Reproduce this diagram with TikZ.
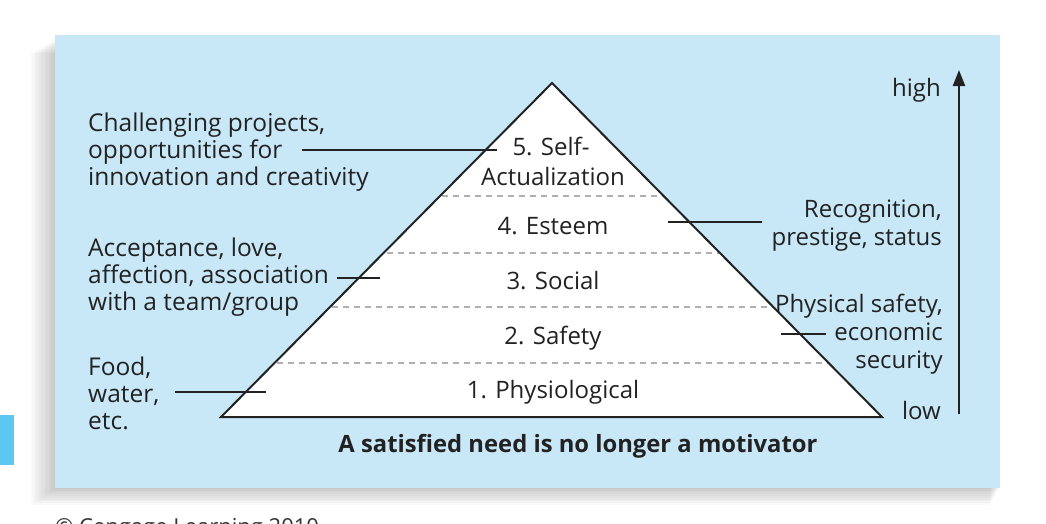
\documentclass[tikz,border=0pt]{standalone}
\usepackage{fontspec}
\setmainfont{Open Sans}
\usetikzlibrary{positioning,calc,arrows.meta}
\definecolor{panelblue}{HTML}{C8E8F8}
\definecolor{tabblue}{HTML}{5CC8F2}
\definecolor{dashgray}{HTML}{B0B0B0}
\definecolor{inkgray}{HTML}{222222}
\tikzset{
  lbl/.style={font=\fontsize{24.5}{27}\selectfont, text=inkgray, inner sep=0pt},
  leftlbl/.style={lbl, align=left, anchor=west},
  rightlbl/.style={lbl, font=\fontsize{24}{28}\selectfont, align=right, anchor=east},
  level/.style={lbl, font=\fontsize{24}{28}\selectfont, anchor=base},
  leader/.style={line width=2pt, inkgray},
  sepline/.style={dashgray, dash pattern=on 6pt off 5pt, line width=1.5pt}
}

\begin{document}
\begin{tikzpicture}[x=1pt,y=-1pt]
			\useasboundingbox (0,0) rectangle (1046,523);
			% shadow and panel
			\foreach \s in {1,...,10}
			\fill[black, opacity=0.025] (56-2.5*\s,38+1.5*\s) rectangle (1000-\s,487+1.8*\s);
			\fill[panelblue] (55,35) rectangle (1000,488);
			\fill[tabblue] (0,415) rectangle (14,465);
			\node[lbl, font=\fontsize{22}{27}\selectfont, anchor=base west, text=black!80] (copy) at (55,534) {\textcopyright{} Cengage Learning 2010};
			
			% pyramid
			\coordinate (apex) at (552,83);
			\coordinate (bl) at (221,417);
			\coordinate (br) at (882,417);
			\fill[white] (apex)--(bl)--(br)--cycle;
			\begin{scope}
			\clip (apex)--(bl)--(br)--cycle;
			\foreach \y in {196,253,307,363}
			\draw[sepline] (200,\y)--(900,\y);
			\end{scope}
			\draw[line width=2pt, inkgray, line join=miter] (apex)--(bl)--(br)--cycle;
			
			\node[level] (lvl5) at (551,155) {5. Self-};
			\node[level] (lvl5b) at (553,185) {Actualization};
			\node[level] (lvl4) at (553,234) {4. Esteem};
			\node[level] (lvl3) at (553,289) {3. Social};
			\node[level] (lvl2) at (553,344) {2. Safety};
			\node[level] (lvl1) at (553,398) {1. Physiological};
			
			% needs on the left
			\node[leftlbl] (chal) at (88,152) {Challenging projects,\\opportunities for\\innovation and creativity};
			\node[leftlbl] (accept) at (88,277) {Acceptance, love,\\affection, association\\with a team/group};
			\node[leftlbl] (food) at (88,393) {Food,\\water,\\etc.};
			% needs on the right
			\node[rightlbl] (recog) at (942,226) {Recognition,\\prestige, status};
			\node[rightlbl] (phys) at (943,334) {Physical safety,\\economic\\security};
			
			\coordinate (chal-start) at (302,150);
			\coordinate (chal-tip) at (497,150);
			\coordinate (accept-tip) at (380,278);
			\coordinate (food-tip) at (266,392);
			\coordinate (recog-tip) at (668,222);
			\coordinate (phys-start) at (826,334);
			\coordinate (phys-tip) at (781,334);
			\begin{scope}[leader]
			\draw (chal-start)--(chal-tip);
			\draw ([xshift=8pt]accept.east|-accept-tip)--(accept-tip);
			\draw (175,392)--(food-tip);
			\draw ([xshift=-9pt]recog.west|-recog-tip)--(recog-tip);
			\draw (phys-start)--(phys-tip);
			\end{scope}
			
			% scale arrow
			\node[lbl, font=\fontsize{24}{28}\selectfont, anchor=east] (high) at (941,90) {high};
			\node[lbl, font=\fontsize{24}{28}\selectfont, anchor=east] (low) at (941,410) {low};
			\coordinate (arr-low) at (959,414);
			\coordinate (arr-high) at (959,70);
			\draw[-{Triangle[length=16pt,width=12pt]}, line width=2.2pt, inkgray] (arr-low)--(arr-high);
			
			\node[lbl, font=\fontsize{23.8}{27}\selectfont\bfseries] (motto) at (578,446) {A satisfied need is no longer a motivator};
\end{tikzpicture}
\end{document}
